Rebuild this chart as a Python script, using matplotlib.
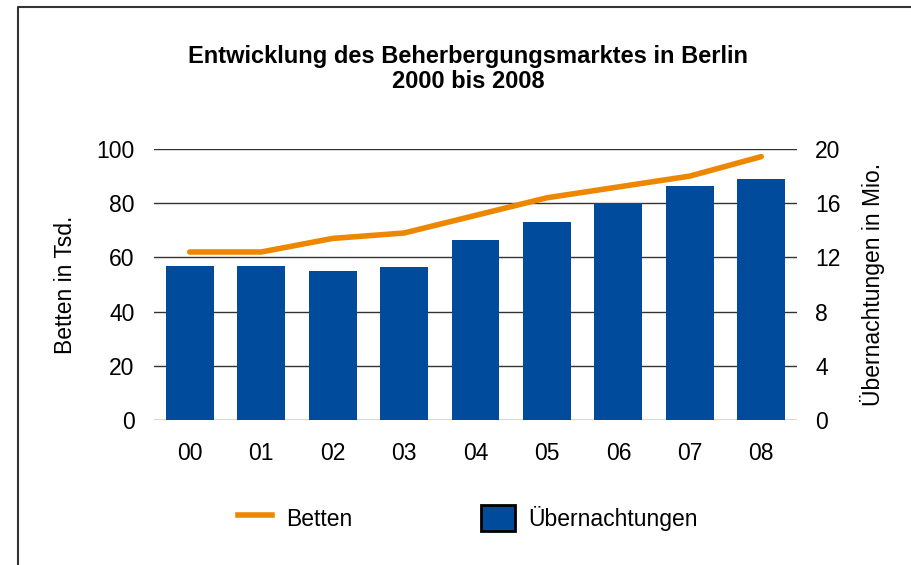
import matplotlib
matplotlib.use("Agg")
import matplotlib.pyplot as plt
from matplotlib.lines import Line2D
from matplotlib.patches import Patch

plt.rcParams['font.family'] = ['Liberation Sans', 'DejaVu Sans']

jahre = ['00', '01', '02', '03', '04', '05', '06', '07', '08']
betten = [62, 62, 67, 69, 75.5, 82, 86, 90, 97.2]          # Tsd.
uebernachtungen = [11.4, 11.4, 11.0, 11.3, 13.3, 14.6, 16.0, 17.3, 17.8]  # Mio.

orange = '#EE8700'
blau = '#004B9B'

fig = plt.figure(figsize=(9.12, 5.65), dpi=100)
ax = fig.add_axes([154 / 912, 1 - 420 / 565, 643 / 912, 271 / 565])
ax2 = ax.twinx()

# bars on the right axis (Mio.)
x = list(range(len(jahre)))
ax2.bar(x, uebernachtungen, width=0.67, color=blau, zorder=2)
ax2.set_ylim(0, 20)
ax2.set_yticks([0, 4, 8, 12, 16, 20])
ax2.yaxis.grid(True, color='#333333', linewidth=1)
ax2.set_axisbelow(True)

# line on the left axis, drawn on top
ax.set_zorder(ax2.get_zorder() + 1)
ax.patch.set_visible(False)
ax.plot(x, betten, color=orange, linewidth=4, solid_capstyle='round')
ax.set_ylim(0, 100)
ax.set_yticks([0, 20, 40, 60, 80, 100])
ax.set_xlim(-0.5, len(jahre) - 0.5)
ax.set_xticks(x)
ax.set_xticklabels(jahre)

for a in (ax, ax2):
    for s in a.spines.values():
        s.set_visible(False)
    a.tick_params(length=0, labelsize=16.5)
ax.tick_params(axis='x', pad=16)
ax.tick_params(axis='y', pad=14)
ax2.tick_params(axis='y', pad=13)

ax.set_ylabel('Betten in Tsd.', fontsize=16.5, labelpad=14)
ax2.set_ylabel('Übernachtungen in Mio.', fontsize=16.5, labelpad=14)

fig.text(468 / 912, 1 - 69 / 565, 'Entwicklung des Beherbergungsmarktes in Berlin\n2000 bis 2008',
         ha='center', va='center', fontsize=17, fontweight='bold', linespacing=1.1)

handles = [Line2D([], [], color=orange, linewidth=4),
           Patch(facecolor=blau, edgecolor='black', linewidth=2)]
fig.legend(handles, ['Betten', 'Übernachtungen'], loc='center',
           bbox_to_anchor=(468 / 912, 1 - 518 / 565), ncol=2, frameon=False,
           fontsize=16.5, handlelength=1.5, handleheight=1.35,
           handletextpad=0.6, columnspacing=5.6)

# frame of the original graphic
fig.add_artist(Line2D([18 / 912, 18 / 912, 1], [0, 1 - 7 / 565, 1 - 7 / 565],
                      color='#333333', linewidth=1.5))

fig.savefig('out.png', dpi=100)
